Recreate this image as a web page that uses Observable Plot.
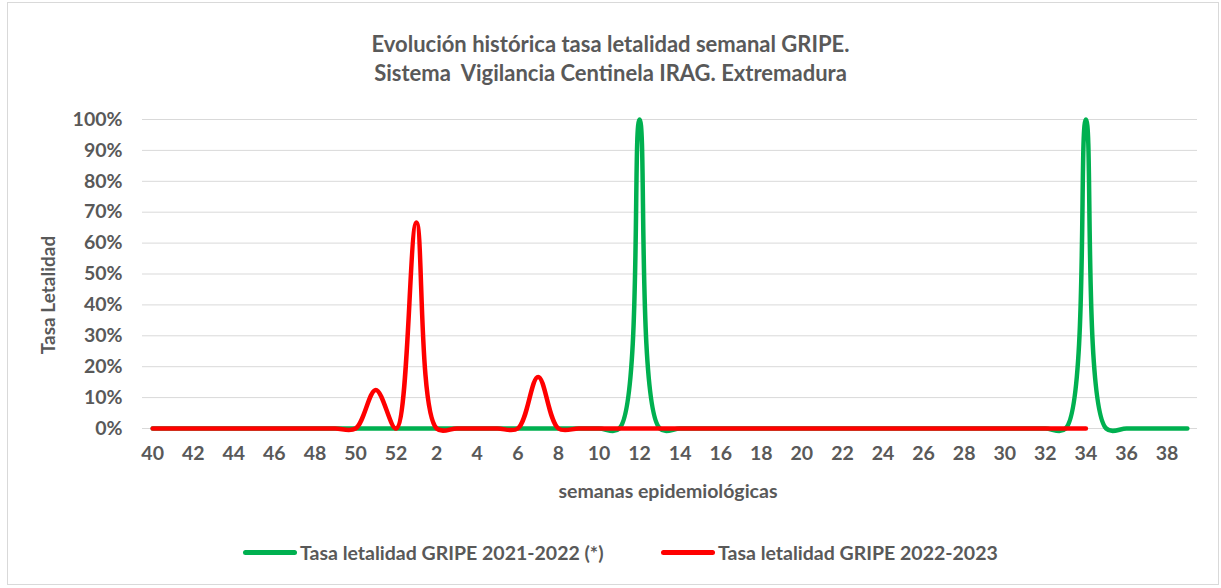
<!DOCTYPE html>
<html><head><meta charset="utf-8">
<script src="https://cdn.jsdelivr.net/npm/d3@7"></script>
<script src="https://cdn.jsdelivr.net/npm/@observablehq/plot@0.6"></script>
<style>
html,body{margin:0;padding:0;background:#fff;}
#wrap{position:relative;width:1221px;height:588px;font-family:Lato,"Open Sans",sans-serif;font-weight:bold;color:#595959;}
#frame{position:absolute;left:7px;top:2px;width:1212px;height:583px;border:1px solid #d9d9d9;box-sizing:border-box;}
#title{position:absolute;left:0;width:1221px;top:29px;text-align:center;font-size:22px;line-height:29px;}
#ylab{position:absolute;left:47px;top:295px;transform:translate(-50%,-50%) rotate(-90deg);font-size:19px;white-space:nowrap;}
#xlab{position:absolute;left:668px;top:490px;transform:translate(-50%,-50%);font-size:19.5px;white-space:nowrap;}
#legend{position:absolute;top:540px;left:0;width:1221px;height:24px;font-size:19.5px;}
.item{position:absolute;top:0;display:flex;align-items:center;height:24px;white-space:nowrap;}
.sw{display:inline-block;width:54px;height:5px;border-radius:3px;margin-right:3px;}
#chart{position:absolute;left:0;top:0;}
</style></head>
<body>
<div id="wrap">
  <div id="frame"></div>
  <div id="chart"></div>
  <div id="title">Evolución histórica tasa letalidad semanal GRIPE.<br>Sistema&nbsp; Vigilancia Centinela IRAG. Extremadura</div>
  <div id="ylab">Tasa Letalidad</div>
  <div id="xlab">semanas epidemiológicas</div>
  <div id="legend"></div>
</div>
<script>
// Epidemiological weeks (season from week 40 to week 39)
const weeks = ["40","41","42","43","44","45","46","47","48","49","50","51","52",
  "1","2","3","4","5","6","7","8","9","10","11","12","13","14","15","16","17","18","19","20",
  "21","22","23","24","25","26","27","28","29","30","31","32","33","34","35","36","37","38","39"];
const tickWeeks = ["40","42","44","46","48","50","52","2","4","6","8","10","12","14","16","18","20",
  "22","24","26","28","30","32","34","36","38"];
const seriesNames = ["Tasa letalidad GRIPE 2021-2022 (*)", "Tasa letalidad GRIPE 2022-2023"];
const seriesColors = ["#00B050", "#FF0000"];
// 2021-2022 (weeks 40..39)
const rate2122 = [0,0,0,0,0,0,0,0,0,0,0,0,0,
  0,0,0,0,0,0,0,0,0,0,0,1,0,0,0,0,0,0,0,0,
  0,0,0,0,0,0,0,0,0,0,0,0,0,1,0,0,0,0,0];
// 2022-2023 (weeks 40..34)
const rate2223 = [0,0,0,0,0,0,0,0,0,0,0,0.125,0,
  0.667,0,0,0,0,0,0.167,0,0,0,0,0,0,0,0,0,0,0,0,0,
  0,0,0,0,0,0,0,0,0,0,0,0,0,0];

const data = [];
rate2122.forEach((v,i)=>data.push({week:weeks[i], value:v, s:seriesNames[0]}));
rate2223.forEach((v,i)=>data.push({week:weeks[i], value:v, s:seriesNames[1]}));

const W = 1221, H = 588;
const plot = Plot.plot({
  width: W, height: H,
  marginLeft: 142, marginRight: 24, marginTop: 119, marginBottom: 160,
  style: {fontFamily: 'Lato, "Open Sans", sans-serif', fontWeight: "bold", fontSize: "19.5px", color: "#595959", background: "transparent", overflow: "visible"},
  x: {type: "point", domain: weeks, padding: 0.5, round: false, label: null},
  y: {domain: [0, 1], label: null},
  color: {domain: seriesNames, range: seriesColors},
  marks: [
    Plot.gridY([0,0.1,0.2,0.3,0.4,0.5,0.6,0.7,0.8,0.9,1], {stroke: "#d9d9d9", strokeOpacity: 1, strokeWidth: 1}),
    Plot.axisY([0,0.1,0.2,0.3,0.4,0.5,0.6,0.7,0.8,0.9,1], {tickSize: 0, tickPadding: 20, tickFormat: d => Math.round(d*100) + "%", label: null, fill: "#595959", fontSize: 19.5, fontWeight: "bold"}),
    Plot.axisX(tickWeeks, {tickSize: 0, tickPadding: 18, label: null, fill: "#595959", fontSize: 19.5, fontWeight: "bold"}),
    Plot.line(data, {x: "week", y: "value", stroke: "s", z: "s", strokeWidth: 4.5, curve: "catmull-rom", strokeLinecap: "round", strokeLinejoin: "round"})
  ]
});
document.getElementById("chart").appendChild(plot);

const legend = document.getElementById("legend");
const lefts = [243, 661];
seriesNames.forEach((n,i)=>{
  const d = document.createElement("div");
  d.className = "item";
  d.style.left = lefts[i] + "px";
  d.innerHTML = `<span class="sw" style="background:${seriesColors[i]}"></span><span>${n}</span>`;
  legend.appendChild(d);
});
</script>
</body></html>
